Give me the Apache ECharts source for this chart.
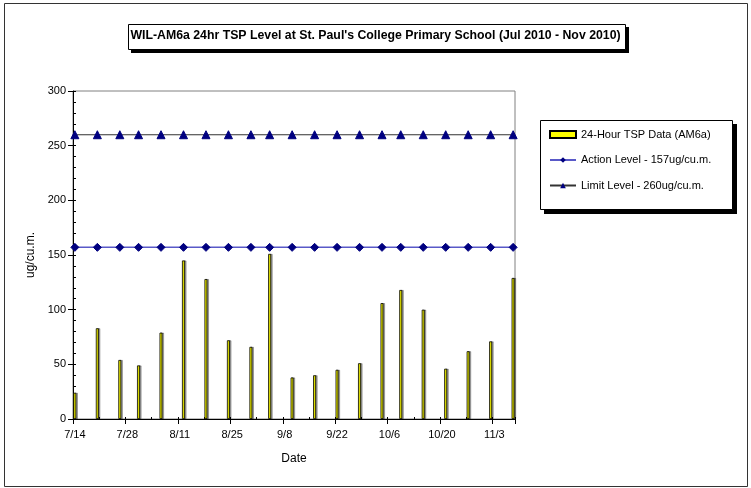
<!DOCTYPE html>
<html>
<head>
<meta charset="utf-8">
<script src="https://cdn.jsdelivr.net/npm/echarts@6/dist/echarts.min.js"></script>
<style>html,body{margin:0;padding:0;background:#fff;}#c{width:751px;height:488px;}</style>
</head>
<body>
<div id="c"></div>
<script>
// ---- data ----
const titleText = "WIL-AM6a 24hr TSP Level at St. Paul's College Primary School (Jul 2010 - Nov 2010)";
const axisStart = [2010, 7, 14];   // first day on the date axis
const axisEnd = [2010, 11, 8];     // last day on the date axis
const sampleDates = ['7/14','7/20','7/26','7/31','8/6','8/12','8/18','8/24','8/30','9/4','9/10',
                     '9/16','9/22','9/28','10/4','10/9','10/15','10/21','10/27','11/2','11/8'];
const tspValues = [24, 83, 54, 49, 79, 145, 128, 72, 66, 151, 38,
                   40, 45, 51, 106, 118, 100, 46, 62, 71, 129];
const actionLevel = [157,157,157,157,157,157,157,157,157,157,157,157,157,157,157,157,157,157,157,157,157];
const limitLevel = [260,260,260,260,260,260,260,260,260,260,260,260,260,260,260,260,260,260,260,260,260];
const yTicks = [0, 50, 100, 150, 200, 250, 300];
const seriesNames = ['24-Hour TSP Data (AM6a)', 'Action Level - 157ug/cu.m.', 'Limit Level - 260ug/cu.m.'];

// ---- build daily category axis ----
const days = [];
{
  let d = new Date(Date.UTC(axisStart[0], axisStart[1]-1, axisStart[2]));
  const end = new Date(Date.UTC(axisEnd[0], axisEnd[1]-1, axisEnd[2]));
  while (d <= end) { days.push((d.getUTCMonth()+1) + '/' + d.getUTCDate()); d = new Date(d.getTime() + 86400000); }
}
function spread(vals) {
  const out = days.map(() => null);
  sampleDates.forEach((s, i) => { const k = days.indexOf(s); if (k >= 0) out[k] = vals[i]; });
  return out;
}
const FONT = 'Liberation Sans, Arial, sans-serif';
const chart = echarts.init(document.getElementById('c'), null, {renderer: 'canvas'});
chart.setOption({
  animation: false,
  backgroundColor: '#fff',
  title: {
    text: titleText, left: 'center', top: 30, padding: 0, z: 20,
    textStyle: {fontFamily: FONT, fontSize: 12.3, fontWeight: 'bold', color: '#000'}
  },
  graphic: [
    {type: 'rect', z: 0, silent: true, shape: {x: 4.5, y: 3.5, width: 743, height: 483}, style: {fill: null, stroke: '#333', lineWidth: 1}},
    {type: 'rect', z: 1, silent: true, shape: {x: 131, y: 27, width: 498, height: 26}, style: {fill: '#000'}},
    {type: 'rect', z: 2, silent: true, shape: {x: 128.5, y: 24.5, width: 497, height: 25}, style: {fill: '#fff', stroke: '#000', lineWidth: 1}},
    {type: 'rect', z: 1, silent: true, shape: {x: 544, y: 124, width: 193, height: 90}, style: {fill: '#000'}},
    {type: 'rect', z: 2, silent: true, shape: {x: 540.5, y: 120.5, width: 192, height: 89}, style: {fill: '#fff', stroke: '#000', lineWidth: 1}}
  ],
  legend: {
    orient: 'vertical', left: 549, top: 129, z: 20,
    itemWidth: 26, itemHeight: 7, itemGap: 14.5, padding: 0,
    textStyle: {fontFamily: FONT, fontSize: 11, color: '#000'},
    data: [
      {name: seriesNames[0], icon: 'rect'},
      {name: seriesNames[1]},
      {name: seriesNames[2]}
    ]
  },
  grid: {left: 73, right: 236, top: 91, bottom: 69, show: true, borderColor: '#808080', borderWidth: 1, backgroundColor: 'transparent'},
  xAxis: [
    {
      type: 'category', data: days, boundaryGap: true,
      name: 'Date', nameLocation: 'middle', nameGap: 34,
      nameTextStyle: {fontFamily: FONT, fontSize: 12, color: '#000'},
      axisLine: {lineStyle: {color: '#000', width: 1}},
      axisTick: {show: true, interval: 13, length: 5, lineStyle: {color: '#000'}},
      axisLabel: {interval: 13, margin: 10, fontFamily: FONT, fontSize: 11, color: '#000'},
      splitLine: {show: false}
    },
    {
      type: 'category', data: days, boundaryGap: true, position: 'bottom',
      axisLine: {show: false},
      axisTick: {show: true, inside: true, interval: 6, length: 2, lineStyle: {color: '#000'}},
      axisLabel: {show: false}, splitLine: {show: false}
    }
  ],
  yAxis: [
    {
      type: 'value', min: yTicks[0], max: yTicks[yTicks.length-1], interval: yTicks[1]-yTicks[0],
      name: 'ug/cu.m.', nameLocation: 'middle', nameGap: 32,
      nameTextStyle: {fontFamily: FONT, fontSize: 12, color: '#000'},
      axisLine: {show: true, lineStyle: {color: '#000', width: 1}},
      axisTick: {show: true, length: 5, lineStyle: {color: '#000'}},
      axisLabel: {margin: 7, fontFamily: FONT, fontSize: 11, color: '#000'},
      splitLine: {show: false}
    },
    {
      type: 'value', min: yTicks[0], max: yTicks[yTicks.length-1], interval: 10, position: 'left',
      axisLine: {show: false},
      axisTick: {show: true, inside: true, length: 3, lineStyle: {color: '#000'}},
      axisLabel: {show: false}, splitLine: {show: false}
    }
  ],
  series: [
    {
      name: seriesNames[0], type: 'bar', data: spread(tspValues), barWidth: 3, z: 3,
      itemStyle: {color: '#FFFF00', borderColor: '#000', borderWidth: 0.8,
        shadowColor: 'rgba(0,0,0,0.35)', shadowOffsetX: 1.5, shadowOffsetY: 0, shadowBlur: 0}
    },
    {
      name: seriesNames[1], type: 'line', data: spread(actionLevel), connectNulls: true, z: 4,
      symbol: 'diamond', symbolSize: 8, showAllSymbol: true,
      lineStyle: {color: '#5959C8', width: 1.5},
      itemStyle: {color: '#000080', borderColor: '#000080'}
    },
    {
      name: seriesNames[2], type: 'line', data: spread(limitLevel), connectNulls: true, z: 4,
      symbol: 'triangle', symbolSize: 8, showAllSymbol: true,
      lineStyle: {color: '#333333', width: 1.2},
      itemStyle: {color: '#000080', borderColor: '#000080'}
    }
  ]
});
</script>
</body>
</html>
